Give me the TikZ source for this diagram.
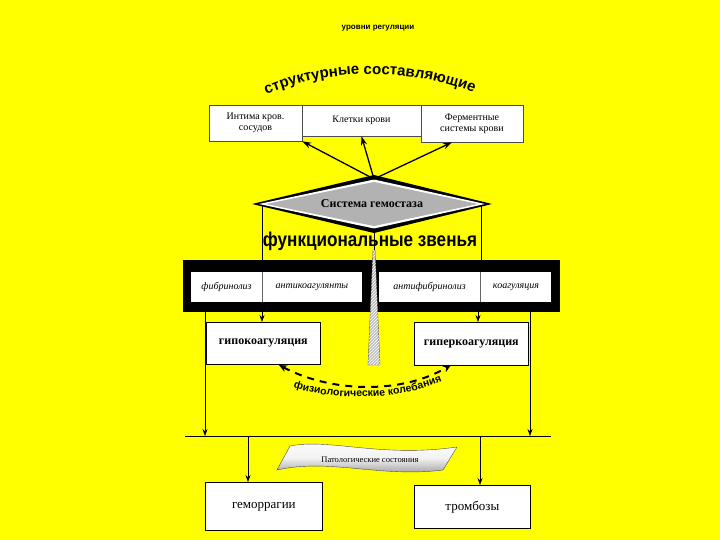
\documentclass[tikz,border=0pt]{standalone}
\usepackage{fontspec}
\setmainfont{Liberation Serif}
\newfontfamily\arial{Liberation Sans}
\usetikzlibrary{shapes.geometric,arrows.meta,decorations.text,patterns}
\definecolor{bg}{RGB}{255,255,0}
\tikzset{
 wbox/.style={draw=black!70,fill=white,line width=0.6pt,inner sep=2pt,align=center,font=\fontsize{10}{11}\selectfont},
 bigbox/.style={draw=black,fill=white,line width=0.7pt,font=\bfseries\fontsize{12}{13}\selectfont},
 cell/.style={fill=white,inner sep=0pt,font=\itshape\fontsize{10}{11}\selectfont},
 arr/.style={-{Stealth[length=7pt,width=5pt]},line width=0.6pt},
 tarr/.style={-{Stealth[length=9pt,width=6pt]},line width=1.3pt},
 ln/.style={line width=0.6pt}
}
\begin{document}
\begin{tikzpicture}[x=1pt,y=-1pt]
\fill[bg] (0,0) rectangle (720,540);
\useasboundingbox (0,0) rectangle (720,540);
\node (t0) at (378,28) {\arial\bfseries\fontsize{8}{9}\selectfont уровни регуляции};
% arched title
\path[postaction={decorate,decoration={text along path,text align=center,
 text={|\arial\bfseries\fontsize{15}{16}\selectfont|структурные составляющие}}}]
 (255,100) .. controls (320,66) and (420,66) .. (485,98);
% top boxes
\node[wbox,minimum width=93pt,minimum height=36pt] (b1) at (255.5,123) {Интима кров.\\сосудов};
\node[wbox,minimum width=119pt,minimum height=31pt] (b2) at (361.5,120.5) {Клетки крови};
\node[wbox,minimum width=102pt,minimum height=37pt] (b3) at (472,123.5) {Ферментные\\системы крови};
% diamond
\coordinate (dt) at (374,179);
\fill[black] (252,204) -- (374,175) -- (492,204) -- (374,233) -- cycle;
\fill[white] (259,204) -- (374,179.5) -- (485,204) -- (374,228.5) -- cycle;
\fill[black!30] (266,204) -- (374,182) -- (478,204) -- (374,226) -- cycle;
\node (dia) at (372,204) {\bfseries\fontsize{12}{13}\selectfont Система гемостаза};
\draw[tarr] (dt) -- (b1.south east);
\draw[tarr] (dt) -- (b2.south);
\draw[tarr] (dt) -- ([xshift=-20pt]b3.south);
% verticals from diamond
\coordinate (dl) at (262,206);
\coordinate (dr) at (481,206);
\node (fz) at (370,241) {\arial\bfseries\fontsize{19}{20}\selectfont\scalebox{0.9}[1.05]{функциональные звенья}};
% band
\fill[black] (183,260) rectangle (560,312);
\coordinate (bl) at (262,260); \coordinate (br) at (481,260);
\draw[ln] (dl) -- (bl); \draw[ln] (dr) -- (br);
\node[cell,minimum width=71pt,minimum height=30pt] (c1) at (226.5,287) {фибринолиз};
\node[cell,minimum width=99pt,minimum height=30pt] (c2) at (312,287) {антикоагулянты};
\node[cell,minimum width=101pt,minimum height=30pt] (c3) at (429.5,287) {антифибринолиз};
\node[cell,minimum width=70pt,minimum height=30pt] (c4) at (516,287) {коагуляция};
\draw[ln,black!60] (262,272) -- (262,302) (480,272) -- (480,302);
% spike
\draw[ln] (374,229) -- (374,250);
\filldraw[fill=black!25,draw=black!70,line width=0.4pt] (373,250) -- (375,250) -- (380,365) -- (368,365) -- cycle;
\fill[pattern=north east lines,pattern color=white] (373,250) -- (375,250) -- (380,365) -- (368,365) -- cycle;
% lower boxes
\node[bigbox,minimum width=114pt,minimum height=42pt,anchor=north west] (hypo) at (206,322) {гипокоагуляция};
\node[bigbox,minimum width=114pt,minimum height=43pt,anchor=north west] (hyper) at (414,322) {гиперкоагуляция};
\coordinate (a1) at (262,312); \coordinate (a2) at (478,312);
\draw[arr] (a1) -- (hypo.north -| a1);
\draw[arr] (a2) -- (hyper.north -| a2);
% dashed arc
\draw[line width=2pt,dash pattern=on 7pt off 6pt,{Stealth[length=8pt,width=7pt]}-{Stealth[length=8pt,width=7pt]}] (279,365) .. controls (330,392) and (400,395) .. (451,365);
\path[postaction={decorate,decoration={text along path,text align=center,
 text={|\arial\bfseries\fontsize{10.5}{11}\selectfont|физиологические колебания}}}]
 (285,385) .. controls (330,402) and (400,402) .. (450,378);
% side lines
\coordinate (s1t) at (205,312); \coordinate (s2t) at (530,312);
\coordinate (s1b) at (205,436); \coordinate (s2b) at (530,436);
\draw[arr] (s1t) -- (s1b); \draw[arr] (s2t) -- (s2b);
\coordinate (hl) at (185,436); \coordinate (hr) at (551,436);
\draw[ln] (hl) -- (hr);
% banner
\shade[top color=white,bottom color=black!45,middle color=black!5,draw=black!70] (290,446) .. controls (330,438) and (380,458) .. (457,447)
 -- (443,470) .. controls (380,478) and (330,458) .. (277,470) -- cycle;
\node (ban) at (370,460) {\fontsize{8.5}{9}\selectfont Патологические состояния};
% bottom boxes
\node[bigbox,minimum width=117pt,minimum height=48pt,anchor=north west,font=\fontsize{13}{14}\selectfont] (hem) at (205,482) {геморрагии};
\node[bigbox,minimum width=116pt,minimum height=43pt,anchor=north west,font=\fontsize{13}{14}\selectfont] (thr) at (414,485) {тромбозы};
\coordinate (d1) at (248,436); \coordinate (d2) at (480,436);
\draw[arr] (d1) -- (hem.north -| d1);
\draw[arr] (d2) -- (thr.north -| d2);
\end{tikzpicture}
\end{document}
